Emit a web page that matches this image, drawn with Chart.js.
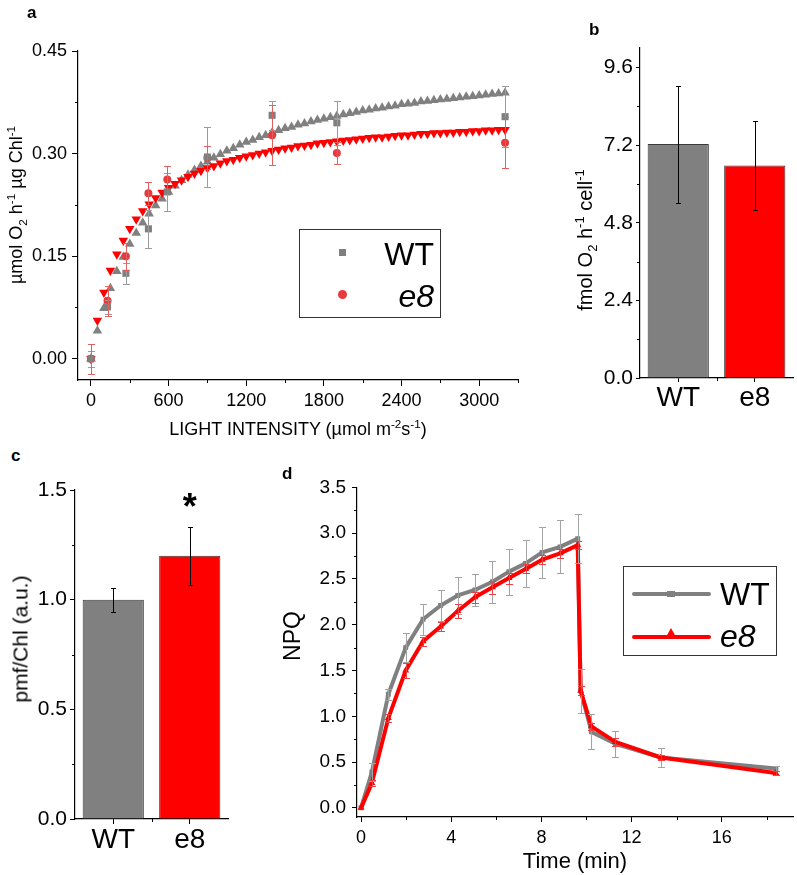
<!DOCTYPE html>
<html>
<head>
<meta charset="utf-8">
<script src="https://cdn.jsdelivr.net/npm/chart.js@4.4.0/dist/chart.umd.min.js"></script>
<style>
  body { margin: 0; background: #fff; width: 797px; height: 875px; position: relative; overflow: hidden;
         font-family: "Liberation Sans", Arial, sans-serif; color: #000; }
  canvas { position: absolute; }
  .panel { position: absolute; font-weight: bold; font-size: 17px; line-height: 17px; }
  .ytitle { position: absolute; white-space: nowrap; line-height: 1; transform: translate(-50%, -50%) rotate(-90deg); }
  .xtitle { position: absolute; white-space: nowrap; transform: translateX(-50%); }
  sub, sup { font-size: 65%; line-height: 0; }
  .legend { position: absolute; border: 1px solid #333; box-sizing: border-box; }
  .ltext { position: absolute; font-size: 32px; line-height: 32px; white-space: nowrap; }
</style>
</head>
<body>
<canvas id="chartA" width="530" height="425" style="left:0;top:20px"></canvas>
<canvas id="chartB" width="227" height="405" style="left:570px;top:20px"></canvas>
<canvas id="chartC" width="240" height="405" style="left:0;top:470px"></canvas>
<canvas id="chartD" width="517" height="405" style="left:280px;top:470px"></canvas>

<div class="panel" style="left:27px;top:4px">a</div>
<div class="panel" style="left:589px;top:21px">b</div>
<div class="panel" style="left:11px;top:447px">c</div>
<div class="panel" style="left:282px;top:465px">d</div>

<div class="ytitle" style="left:16px;top:205px;font-size:18px">µmol O<sub>2</sub> h<sup>-1</sup> µg Chl<sup>-1</sup></div>
<div class="xtitle" style="left:298px;top:420px;font-size:18px;line-height:18px">LIGHT INTENSITY (µmol m<sup>-2</sup>s<sup>-1</sup>)</div>
<div class="ytitle" style="left:585px;top:240px;font-size:20px">fmol O<sub>2</sub> h<sup>-1</sup> cell<sup>-1</sup></div>
<div class="ytitle" style="left:20px;top:639px;font-size:21px">pmf/Chl (a.u.)</div>
<div class="ytitle" style="left:292px;top:636px;font-size:23px">NPQ</div>

<div class="legend" style="left:299px;top:229px;width:142px;height:89px"></div>
<div style="position:absolute;left:339px;top:249px;width:7px;height:7px;background:#7f7f7f"></div>
<div style="position:absolute;left:338px;top:290px;width:9px;height:9px;border-radius:50%;background:#e8393c"></div>
<div class="ltext" style="left:330px;top:238px;width:104px;text-align:right">WT</div>
<div class="ltext" style="left:330px;top:280px;width:104px;text-align:right;font-style:italic">e8</div>

<div class="legend" style="left:623px;top:566px;width:154px;height:90px"></div>
<div style="position:absolute;left:632px;top:592px;width:79px;height:4px;border-radius:2px;background:#808080"></div>
<div style="position:absolute;left:667px;top:591px;width:8px;height:6px;background:#808080"></div>
<div style="position:absolute;left:632px;top:635px;width:79px;height:4px;border-radius:2px;background:#ff0000"></div>
<svg style="position:absolute;left:666px;top:628px" width="10" height="9"><polygon points="5,0 10,9 0,9" fill="#ff0000"/></svg>
<div class="ltext" style="left:720px;top:578px">WT</div>
<div class="ltext" style="left:720px;top:620px;font-style:italic">e8</div>

<script>
// panel a: O2 evolution vs light
const lightX = [0, 128, 270, 444, 590, 900, 1400, 1900, 3200];
const wtRate = [0, 0.076, 0.125, 0.19, 0.244, 0.295, 0.356, 0.345, 0.354];
const wtRateErr = [0.012, 0.01, 0.015, 0.028, 0.028, 0.044, 0.021, 0.032, 0.045];
const e8Rate = [0, 0.085, 0.15, 0.242, 0.262, 0.294, 0.327, 0.301, 0.316];
const e8RateErr = [0.022, 0.022, 0.02, 0.017, 0.02, 0.017, 0.044, 0.016, 0.037];

const fitX = [0, 50, 100, 150, 200, 250, 300, 350, 400, 450, 500, 550, 600, 650, 700, 750, 800, 850, 900, 950,
  1000, 1050, 1100, 1150, 1200, 1250, 1300, 1350, 1400, 1450, 1500, 1550, 1600, 1650, 1700, 1750, 1800, 1850, 1900, 1950,
  2000, 2050, 2100, 2150, 2200, 2250, 2300, 2350, 2400, 2450, 2500, 2550, 2600, 2650, 2700, 2750, 2800, 2850, 2900, 2950,
  3000, 3050, 3100, 3150, 3200];
const fitWT = [0, 0.041, 0.074, 0.103, 0.128, 0.149, 0.168, 0.184, 0.199, 0.212,
  0.224, 0.234, 0.244, 0.253, 0.261, 0.269, 0.276, 0.282, 0.288, 0.294,
  0.299, 0.304, 0.308, 0.313, 0.317, 0.320, 0.324, 0.327, 0.331, 0.334,
  0.337, 0.339, 0.342, 0.344, 0.347, 0.349, 0.351, 0.353, 0.355, 0.357,
  0.359, 0.361, 0.363, 0.364, 0.366, 0.367, 0.369, 0.370, 0.372, 0.373,
  0.374, 0.376, 0.377, 0.378, 0.379, 0.380, 0.381, 0.382, 0.383, 0.384,
  0.385, 0.386, 0.387, 0.388, 0.389];
const fitE8 = [0, 0.056, 0.097, 0.129, 0.153, 0.173, 0.190, 0.204, 0.216, 0.226,
  0.235, 0.243, 0.250, 0.256, 0.261, 0.266, 0.271, 0.275, 0.279, 0.282,
  0.286, 0.289, 0.291, 0.294, 0.296, 0.298, 0.300, 0.302, 0.304, 0.306,
  0.308, 0.309, 0.311, 0.312, 0.313, 0.315, 0.316, 0.317, 0.318, 0.319,
  0.320, 0.321, 0.322, 0.323, 0.324, 0.324, 0.325, 0.326, 0.327, 0.327,
  0.328, 0.329, 0.329, 0.330, 0.330, 0.331, 0.331, 0.332, 0.332, 0.333,
  0.333, 0.334, 0.334, 0.335, 0.335];
const xTicksA = [0, 600, 1200, 1800, 2400, 3000];
const xMinorA = [300, 900, 1500, 2100, 2700, 3300];
const yTicksA = [0, 0.15, 0.30, 0.45];
const yMinorA = [0.075, 0.225, 0.375];

// panel b: rate per cell
const strains = ['WT', 'e8'];
const cellRate = [7.23, 6.57];
const cellRateErr = [1.81, 1.38];
const yTicksB = [0, 2.4, 4.8, 7.2, 9.6];
const yMinorB = [1.2, 3.6, 6.0, 8.4];

// panel c: pmf/Chl
const pmf = [1.0, 1.2];
const pmfErr = [0.055, 0.133];
const yTicksC = [0, 0.5, 1.0, 1.5];
const yMinorC = [0.25, 0.75, 1.25];

// panel d: NPQ kinetics
const timeMin = [0, 0.48, 1.21, 1.98, 2.75, 3.53, 4.29, 5.05, 5.83, 6.56, 7.30, 8.03, 8.83, 9.61, 9.74, 10.22, 11.28, 13.30, 18.40];
const npqWT = [0, 0.39, 1.24, 1.75, 2.06, 2.21, 2.32, 2.38, 2.47, 2.58, 2.67, 2.79, 2.85, 2.94, 1.28, 0.83, 0.70, 0.55, 0.43];
const npqWTErr = [0, 0.1, 0.06, 0.16, 0.17, 0.17, 0.2, 0.17, 0.23, 0.25, 0.26, 0.28, 0.29, 0.27, 0.24, 0.19, 0.14, 0.1, 0.03];
const npqE8 = [0, 0.27, 0.98, 1.50, 1.82, 1.98, 2.15, 2.30, 2.41, 2.51, 2.61, 2.71, 2.78, 2.87, 1.28, 0.89, 0.72, 0.55, 0.38];
const npqE8Err = [0, 0.03, 0.04, 0.08, 0.05, 0.05, 0.08, 0.06, 0.07, 0.06, 0.05, 0.05, 0.05, 0.04, 0.05, 0.04, 0.04, 0.03, 0.02];
const xTicksD = [0, 4, 8, 12, 16];
const xMinorD = [2, 6, 10, 14, 18];
const yTicksD = [0, 0.5, 1.0, 1.5, 2.0, 2.5, 3.0, 3.5];
const yMinorD = [0.25, 0.75, 1.25, 1.75, 2.25, 2.75, 3.25];

const FONT = '"Liberation Sans", Arial, sans-serif';
Chart.defaults.font.family = FONT;
Chart.defaults.color = '#000';

// vertical error bars, drawn from dataset.errors
const errorBarPlugin = {
  id: 'errorBars',
  afterDatasetsDraw(chart) {
    const ctx = chart.ctx;
    const yScale = chart.scales.y;
    chart.data.datasets.forEach((ds, i) => {
      if (!ds.errors) return;
      const meta = chart.getDatasetMeta(i);
      ctx.save();
      ctx.strokeStyle = ds.errorColor;
      ctx.lineWidth = 1;
      meta.data.forEach((el, j) => {
        const e = ds.errors[j];
        if (!e) return;
        const raw = ds.data[j];
        const val = typeof raw === 'object' ? raw.y : raw;
        const x = Math.round(el.x) + 0.5;
        const top = Math.round(yScale.getPixelForValue(val + e)) + 0.5;
        const bot = Math.round(yScale.getPixelForValue(val - e)) + 0.5;
        const w = ds.errorCap;
        ctx.beginPath();
        ctx.moveTo(x, top); ctx.lineTo(x, bot);
        ctx.moveTo(x - w, top); ctx.lineTo(x + w, top);
        ctx.moveTo(x - w, bot); ctx.lineTo(x + w, bot);
        ctx.stroke();
      });
      ctx.restore();
    });
  }
};

// short unlabeled ticks between the major ones
const minorTickPlugin = {
  id: 'minorTicks',
  afterDraw(chart) {
    const opts = chart.options.plugins.minorTicks;
    if (!opts) return;
    const { ctx, chartArea, scales } = chart;
    ctx.save();
    ctx.strokeStyle = '#000';
    ctx.lineWidth = 1;
    ctx.beginPath();
    (opts.x || []).forEach(v => {
      const px = Math.round(scales.x.getPixelForValue(v)) + 0.5;
      ctx.moveTo(px, chartArea.bottom); ctx.lineTo(px, chartArea.bottom + opts.len);
    });
    (opts.y || []).forEach(v => {
      const py = Math.round(scales.y.getPixelForValue(v)) + 0.5;
      ctx.moveTo(chartArea.left, py); ctx.lineTo(chartArea.left - opts.len, py);
    });
    ctx.stroke();
    ctx.restore();
  }
};

// significance star above e8 bar in panel c
const starPlugin = {
  id: 'star',
  afterDatasetsDraw(chart) {
    if (!chart.options.plugins.star) return;
    const ctx = chart.ctx;
    const x = chart.scales.x.getPixelForValue(1);
    const y = chart.scales.y.getPixelForValue(pmf[1] + pmfErr[1]);
    ctx.save();
    ctx.font = 'bold 36px ' + FONT;
    ctx.textAlign = 'center';
    ctx.textBaseline = 'alphabetic';
    ctx.fillStyle = '#000';
    ctx.fillText('*', x, y - 8);
    ctx.restore();
  }
};

function linAxis(min, max, ticks, digits, size, tickLen, pad, fixed, isX) {
  return {
    type: 'linear', min, max,
    afterBuildTicks: s => { s.ticks = ticks.map(v => ({ value: v })); },
    afterFit: s => { if (isX) s.height = fixed; else s.width = fixed; },
    ticks: { font: { size }, color: '#000', padding: pad, maxRotation: 0, autoSkip: false,
             callback: v => digits === null ? String(v) : Number(v).toFixed(digits) },
    grid: { drawOnChartArea: false, drawTicks: true, tickLength: tickLen, color: '#000', tickColor: '#000' },
    border: { display: true, color: '#000', width: 1.2 }
  };
}

function catAxis(size, tickLen, pad, fixed) {
  return {
    type: 'category', offset: true,
    afterFit: s => { s.height = fixed; },
    ticks: { font: { size }, color: '#000', padding: pad, maxRotation: 0 },
    grid: { offset: false, drawOnChartArea: false, drawTicks: true, tickLength: tickLen, color: '#000', tickColor: '#000' },
    border: { display: true, color: '#000', width: 1.2 }
  };
}

const common = { responsive: false, animation: false, devicePixelRatio: 1 };

// panel a
new Chart(document.getElementById('chartA'), {
  type: 'scatter',
  data: {
    datasets: [
      { label: 'WT', data: lightX.map((x, i) => ({ x, y: wtRate[i] })), pointStyle: 'rect', pointRadius: 5,
        pointBackgroundColor: '#7f7f7f', pointBorderWidth: 0, errors: wtRateErr, errorColor: '#9b9b9b', errorCap: 3.5, order: 0 },
      { label: 'e8', data: lightX.map((x, i) => ({ x, y: e8Rate[i] })), pointStyle: 'circle', pointRadius: 4,
        pointBackgroundColor: '#e8393c', pointBorderWidth: 0, errors: e8RateErr, errorColor: '#e06060', errorCap: 3.5, order: 0 },
      { label: 'e8 fit', data: fitX.map((x, i) => ({ x, y: fitE8[i] })), pointStyle: 'triangle', pointRotation: 180,
        pointRadius: 5.5, pointBackgroundColor: '#ff0000', pointBorderWidth: 0, order: 1 },
      { label: 'WT fit', data: fitX.map((x, i) => ({ x, y: fitWT[i] })), pointStyle: 'triangle',
        pointRadius: 5.5, pointBackgroundColor: '#808080', pointBorderWidth: 0, order: 2 }
    ]
  },
  options: {
    ...common,
    layout: { padding: { top: 31, right: 12, left: 0, bottom: 0 } },
    plugins: { legend: { display: false }, tooltip: { enabled: false },
               minorTicks: { x: xMinorA, y: yMinorA, len: 3 } },
    scales: {
      x: linAxis(-100, 3300, xTicksA, null, 18, 6, 4, 65, true),
      y: linAxis(-0.031, 0.45, yTicksA, 2, 18, 6, 5, 78, false)
    }
  },
  plugins: [errorBarPlugin, minorTickPlugin]
});

// panel b
new Chart(document.getElementById('chartB'), {
  type: 'bar',
  data: {
    labels: strains,
    datasets: [{ data: cellRate, backgroundColor: ['#808080', '#ff0000'], borderColor: '#3a3a3a', borderWidth: 1,
                 barPercentage: 0.8, categoryPercentage: 1.0, errors: cellRateErr, errorColor: '#000', errorCap: 2.5 }]
  },
  options: {
    ...common,
    layout: { padding: { top: 28, right: 4, left: 0, bottom: 0 } },
    plugins: { legend: { display: false }, tooltip: { enabled: false },
               minorTicks: { x: [0.5], y: yMinorB, len: 3 } },
    scales: {
      x: catAxis(28, 4, -1, 47),
      y: linAxis(0, 10.2, yTicksB, 1, 21, 4, 3, 70, false)
    }
  },
  plugins: [errorBarPlugin, minorTickPlugin]
});

// panel c
new Chart(document.getElementById('chartC'), {
  type: 'bar',
  data: {
    labels: strains,
    datasets: [{ data: pmf, backgroundColor: ['#808080', '#ff0000'], borderColor: '#3a3a3a', borderWidth: 1,
                 barPercentage: 0.8, categoryPercentage: 1.0, errors: pmfErr, errorColor: '#000', errorCap: 2.5 }]
  },
  options: {
    ...common,
    layout: { padding: { top: 20, right: 12, left: 0, bottom: 0 } },
    plugins: { legend: { display: false }, tooltip: { enabled: false }, star: true,
               minorTicks: { x: [0.5], y: yMinorC, len: 3 } },
    scales: {
      x: catAxis(28, 5, -1, 56),
      y: linAxis(0, 1.5, yTicksC, 1, 21, 5, 3, 75, false)
    }
  },
  plugins: [errorBarPlugin, minorTickPlugin, starPlugin]
});

// panel d
const xAxisD = linAxis(-0.18, 19.16, xTicksD, null, 18, 5, 5, 58, true);
xAxisD.title = { display: true, text: 'Time (min)', font: { size: 22 }, color: '#000', padding: { top: 0, bottom: 0 } };
new Chart(document.getElementById('chartD'), {
  type: 'scatter',
  data: {
    datasets: [
      { label: 'WT', data: timeMin.map((x, i) => ({ x, y: npqWT[i] })), showLine: true, borderColor: '#808080',
        borderWidth: 4, borderJoinStyle: 'round', pointStyle: 'rect', pointRadius: 3.5, pointBackgroundColor: '#808080',
        pointBorderWidth: 0, errors: npqWTErr, errorColor: '#a3a3a3', errorCap: 3.5, order: 1 },
      { label: 'e8', data: timeMin.map((x, i) => ({ x, y: npqE8[i] })), showLine: true, borderColor: '#ff0000',
        borderWidth: 4, borderJoinStyle: 'round', pointStyle: 'triangle', pointRadius: 4, pointBackgroundColor: '#ff0000',
        pointBorderWidth: 0, errors: npqE8Err, errorColor: '#ee4040', errorCap: 3.5, order: 0 }
    ]
  },
  options: {
    ...common,
    layout: { padding: { top: 17, right: 0, left: 0, bottom: 0 } },
    plugins: { legend: { display: false }, tooltip: { enabled: false },
               minorTicks: { x: xMinorD, y: yMinorD, len: 3 } },
    scales: {
      x: xAxisD,
      y: linAxis(-0.1, 3.5, yTicksD, 1, 19, 5, 6, 77, false)
    }
  },
  plugins: [errorBarPlugin, minorTickPlugin]
});
</script>
</body>
</html>
